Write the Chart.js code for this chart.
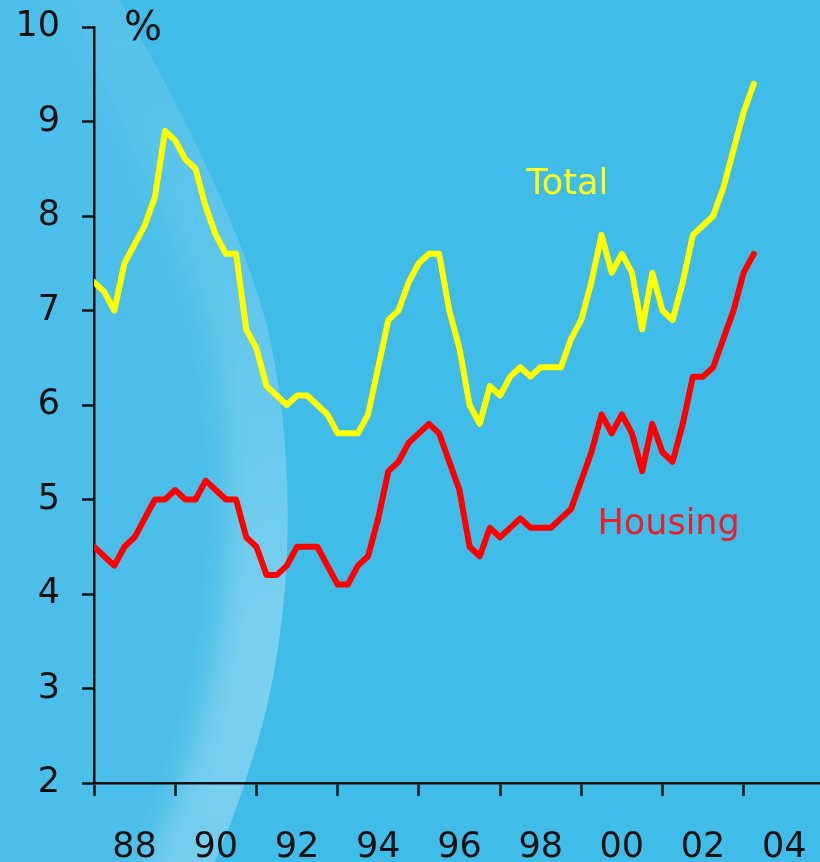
<!DOCTYPE html>
<html>
<head>
<meta charset="utf-8">
<script src="https://cdn.jsdelivr.net/npm/chart.js@4/dist/chart.umd.min.js"></script>
<style>
  html, body { margin: 0; padding: 0; background: #40bce8; overflow: hidden; }
  canvas { display: block; }
</style>
</head>
<body>
<canvas id="chart" width="820" height="862"></canvas>
<script>
// ---- data (quarterly, 1987Q1 .. 2003Q2), % ----
const startYear = 1987;
const total = [7.3, 7.2, 7.0, 7.5, 7.7, 7.9, 8.2, 8.9, 8.8, 8.6,
               8.5, 8.1, 7.8, 7.6, 7.6, 6.8, 6.6, 6.2, 6.1, 6.0,
               6.1, 6.1, 6.0, 5.9, 5.7, 5.7, 5.7, 5.9, 6.4, 6.9,
               7.0, 7.3, 7.5, 7.6, 7.6, 7.0, 6.6, 6.0, 5.8, 6.2,
               6.1, 6.3, 6.4, 6.3, 6.4, 6.4, 6.4, 6.7, 6.9, 7.3,
               7.8, 7.4, 7.6, 7.4, 6.8, 7.4, 7.0, 6.9, 7.3, 7.8,
               7.9, 8.0, 8.3, 8.7, 9.1, 9.4];
const housing = [4.5, 4.4, 4.3, 4.5, 4.6, 4.8, 5.0, 5.0, 5.1, 5.0,
                 5.0, 5.2, 5.1, 5.0, 5.0, 4.6, 4.5, 4.2, 4.2, 4.3,
                 4.5, 4.5, 4.5, 4.3, 4.1, 4.1, 4.3, 4.4, 4.8, 5.3,
                 5.4, 5.6, 5.7, 5.8, 5.7, 5.4, 5.1, 4.5, 4.4, 4.7,
                 4.6, 4.7, 4.8, 4.7, 4.7, 4.7, 4.8, 4.9, 5.2, 5.5,
                 5.9, 5.7, 5.9, 5.7, 5.3, 5.8, 5.5, 5.4, 5.8, 6.3,
                 6.3, 6.4, 6.7, 7.0, 7.4, 7.6];
const quarters = total.map((_, i) => `${startYear + Math.floor(i / 4)}Q${(i % 4) + 1}`);
const yearTickLabels = ['88', '90', '92', '94', '96', '98', '00', '02', '04'];
const yTicks = [2, 3, 4, 5, 6, 7, 8, 9, 10];

const qToYear = q => +q.slice(0, 4) + (+q.slice(5) - 1) / 4;
const pts = arr => arr.map((v, i) => ({ x: qToYear(quarters[i]), y: v }));

const FONT = 'DejaVu Sans';
const INK = '#111';

// blue backdrop with the soft light swirl on the left
const backdrop = {
  id: 'backdrop',
  beforeDraw(chart) {
    const { ctx, width, height } = chart;
    ctx.save();
    ctx.fillStyle = '#40bce8';
    ctx.fillRect(0, 0, width, height);

    const rim = new Path2D();
    rim.moveTo(-150, -100);
    rim.lineTo(60, -100);
    rim.bezierCurveTo(140, 30, 235, 200, 268, 330);
    rim.bezierCurveTo(300, 470, 292, 640, 252, 760);
    rim.bezierCurveTo(228, 840, 200, 900, 160, 960);
    rim.lineTo(-150, 960);
    rim.closePath();

    ctx.fillStyle = 'rgba(255,255,255,0.06)';
    ctx.fill(rim);

    ctx.save();
    ctx.clip(rim);
    ctx.filter = 'blur(14px)';
    const g = ctx.createLinearGradient(0, 0, 0, height);
    g.addColorStop(0, 'rgba(255,255,255,0.05)');
    g.addColorStop(0.35, 'rgba(255,255,255,0.12)');
    g.addColorStop(0.75, 'rgba(255,255,255,0.27)');
    g.addColorStop(1, 'rgba(255,255,255,0.24)');
    ctx.strokeStyle = g;
    ctx.lineWidth = 120;
    ctx.stroke(rim);
    ctx.restore();

    ctx.restore();
  }
};

// unit + series names
const notes = {
  id: 'notes',
  afterDatasetsDraw(chart) {
    const { ctx, chartArea, scales: { x, y } } = chart;
    ctx.save();
    ctx.textBaseline = 'alphabetic';
    ctx.textAlign = 'left';
    ctx.font = `40px "${FONT}"`;
    ctx.fillStyle = INK;
    ctx.fillText('%', chartArea.left + 30, chartArea.top + 13);
    ctx.font = `35px "${FONT}"`;
    ctx.fillStyle = '#ffff1a';
    ctx.fillText('Total', x.getPixelForValue(1997.65), y.getPixelForValue(8.23));
    ctx.fillStyle = '#ea1f2b';
    ctx.fillText('Housing', x.getPixelForValue(1999.4), y.getPixelForValue(4.64));
    ctx.restore();
  }
};

new Chart(document.getElementById('chart'), {
  type: 'line',
  data: {
    datasets: [
      { label: 'Total', data: pts(total), borderColor: '#ffff00', borderWidth: 6,
        pointRadius: 0, tension: 0, borderJoinStyle: 'round', borderCapStyle: 'round' },
      { label: 'Housing', data: pts(housing), borderColor: '#ff0000', borderWidth: 6,
        pointRadius: 0, tension: 0, borderJoinStyle: 'round', borderCapStyle: 'round' }
    ]
  },
  options: {
    responsive: false, animation: false,
    layout: { padding: { left: 0, top: 27, right: 0, bottom: 0 } },
    plugins: { legend: { display: false }, tooltip: { enabled: false } },
    scales: {
      x: {
        type: 'linear', min: startYear, max: 2004.88,
        afterBuildTicks: s => {
          const t = [];
          for (let yr = startYear; yr <= 2004; yr++) t.push({ value: yr });
          s.ticks = t;
        },
        afterFit: s => { s.height = 79; s.paddingLeft = 0; s.paddingRight = 0; },
        border: { color: INK, width: 2.5 },
        grid: {
          drawOnChartArea: false, tickLength: 13, tickWidth: 2.5,
          tickColor: c => (c.tick && c.tick.value % 2 === 1) ? INK : 'rgba(0,0,0,0)'
        },
        ticks: {
          color: INK, padding: 34, maxRotation: 0, autoSkip: false,
          font: { family: FONT, size: 35, lineHeight: 1.0 },
          callback: v => {
            const lbl = String(v).slice(-2);
            return yearTickLabels.includes(lbl) && v % 2 === 0 ? lbl : '';
          }
        }
      },
      y: {
        min: yTicks[0], max: yTicks[yTicks.length - 1],
        afterBuildTicks: s => { s.ticks = yTicks.map(v => ({ value: v })); },
        afterFit: s => { s.width = 94; s.paddingTop = 0; s.paddingBottom = 0; },
        border: { color: INK, width: 2.5 },
        grid: { drawOnChartArea: false, tickLength: 12, tickWidth: 2.5, tickColor: INK },
        ticks: { color: INK, padding: 22, font: { family: FONT, size: 35 } }
      }
    }
  },
  plugins: [backdrop, notes]
});
</script>
</body>
</html>
